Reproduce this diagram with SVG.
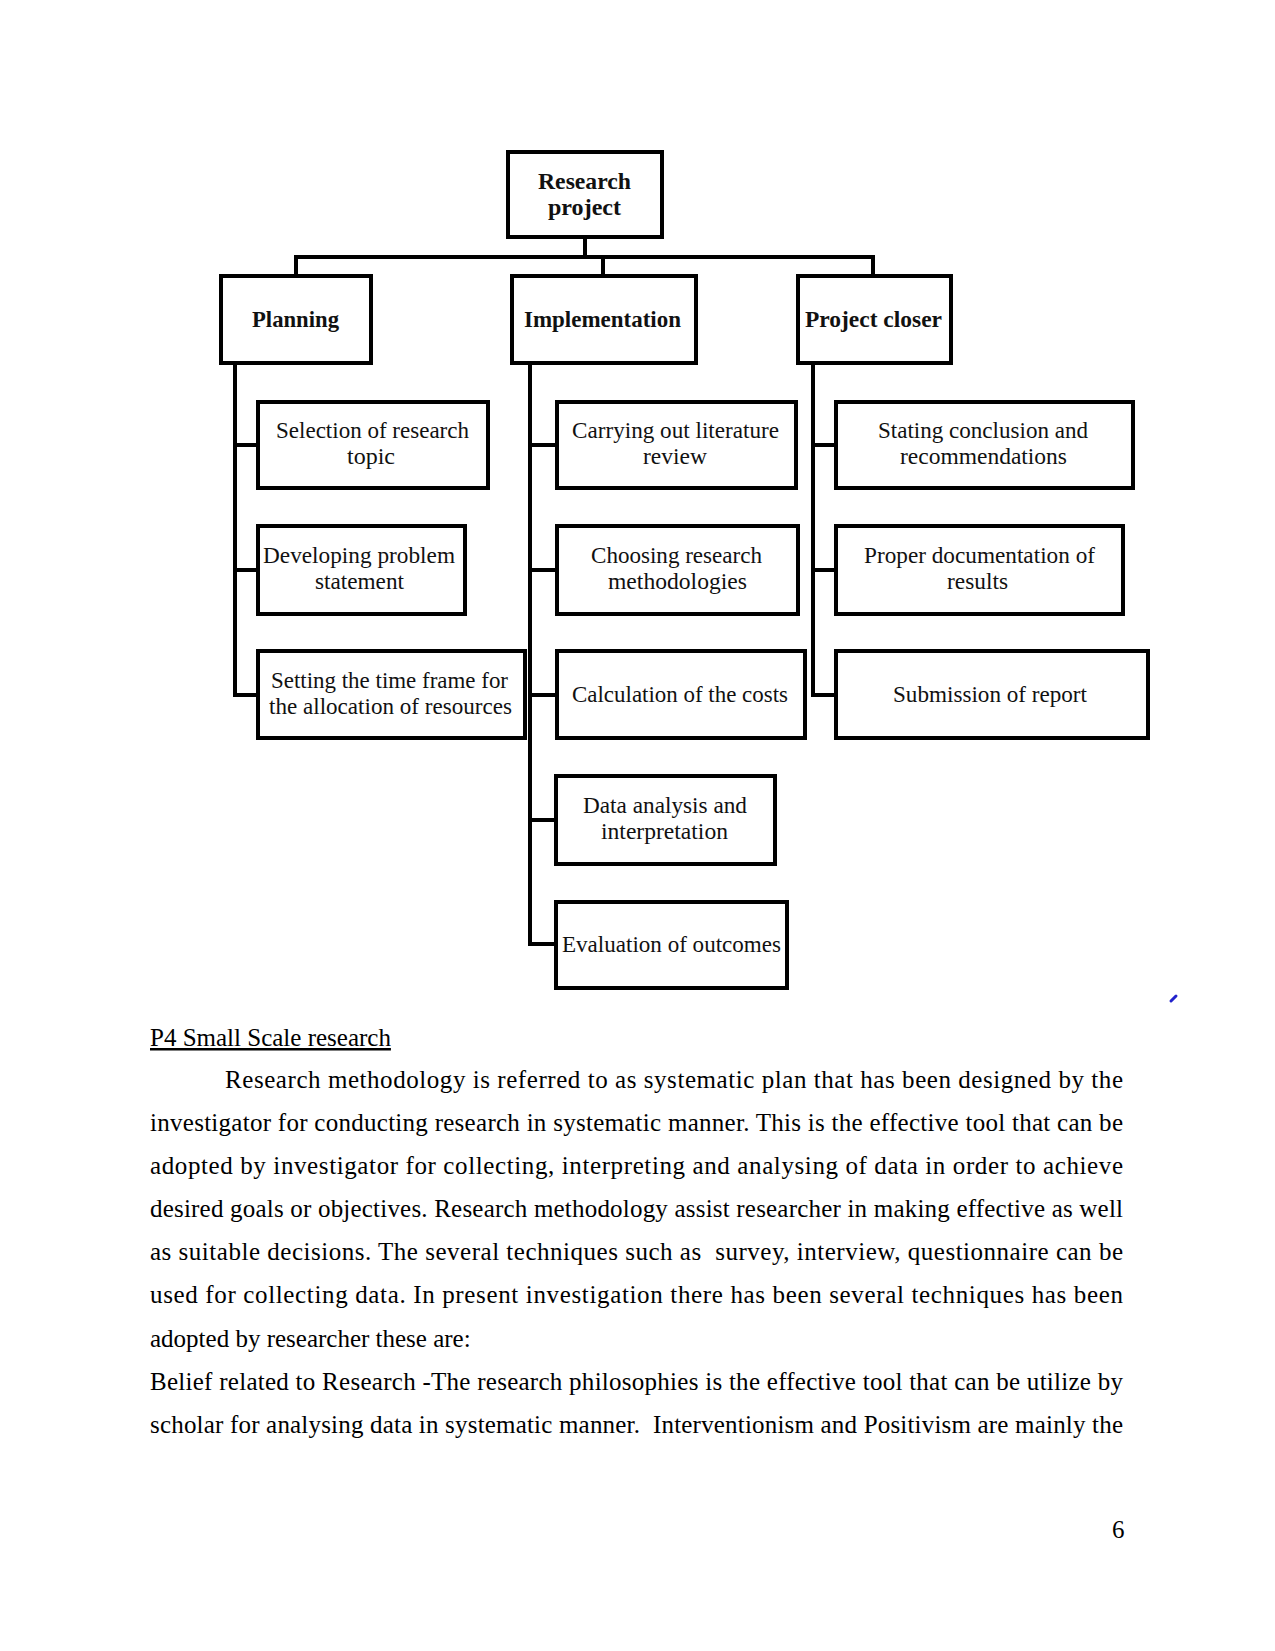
<svg xmlns="http://www.w3.org/2000/svg" width="1275" height="1651" viewBox="0 0 1275 1651">
<style>
.box{fill:#fff;stroke:#000;stroke-width:4}
.con{fill:none;stroke:#000;stroke-width:4}
.t{font-family:"Liberation Serif","Times New Roman",serif;font-size:23px;fill:#111;text-anchor:middle}
.b{font-family:"Liberation Serif","Times New Roman",serif;font-size:23px;font-weight:bold;fill:#111;text-anchor:middle}
.body{font-family:"Liberation Serif","Times New Roman",serif;font-size:25px;fill:#000}
</style>
<rect width="1275" height="1651" fill="#fff"/>
<g id="connectors">
<path class="con" d="M585 237V257"/>
<path class="con" d="M296 276V257H873V276"/>
<path class="con" d="M603 257V276"/>
<path class="con" d="M235 363V695H258M235 445H258M235 570H258"/>
<path class="con" d="M530 363V944H556M530 445H557M530 570H557M530 695H557M530 820H556"/>
<path class="con" d="M813 363V695H836M813 445H836M813 570H836"/>
</g>
<g id="research-project"><rect class="box" x="508" y="152" width="154" height="85"/>
<text class="b" x="584.5" y="189" textLength="93" lengthAdjust="spacingAndGlyphs">Research</text>
<text class="b" x="584.5" y="215" textLength="73" lengthAdjust="spacingAndGlyphs">project</text></g>
<g id="planning"><rect class="box" x="221" y="276" width="150" height="87"/>
<text class="b" x="295.5" y="327" textLength="87" lengthAdjust="spacingAndGlyphs">Planning</text></g>
<g id="implementation"><rect class="box" x="512" y="276" width="184" height="87"/>
<text class="b" x="602.5" y="327" textLength="157" lengthAdjust="spacingAndGlyphs">Implementation</text></g>
<g id="project-closer"><rect class="box" x="798" y="276" width="153" height="87"/>
<text class="b" x="873.5" y="327" textLength="137" lengthAdjust="spacingAndGlyphs">Project closer</text></g>
<g id="selection"><rect class="box" x="258" y="402" width="230" height="86"/>
<text class="t" x="372.5" y="438" textLength="193" lengthAdjust="spacingAndGlyphs">Selection of research</text>
<text class="t" x="371" y="464" textLength="48" lengthAdjust="spacingAndGlyphs">topic</text></g>
<g id="developing"><rect class="box" x="258" y="526" width="207" height="88"/>
<text class="t" x="359" y="563" textLength="192" lengthAdjust="spacingAndGlyphs">Developing problem</text>
<text class="t" x="359.5" y="589" textLength="89" lengthAdjust="spacingAndGlyphs">statement</text></g>
<g id="setting"><rect class="box" x="258" y="651" width="267" height="87"/>
<text class="t" x="389.5" y="688" textLength="237" lengthAdjust="spacingAndGlyphs">Setting the time frame for</text>
<text class="t" x="390.5" y="714" textLength="243" lengthAdjust="spacingAndGlyphs">the allocation of resources</text></g>
<g id="carrying"><rect class="box" x="557" y="402" width="239" height="86"/>
<text class="t" x="675.5" y="438" textLength="207" lengthAdjust="spacingAndGlyphs">Carrying out literature</text>
<text class="t" x="675" y="464" textLength="64" lengthAdjust="spacingAndGlyphs">review</text></g>
<g id="choosing"><rect class="box" x="557" y="526" width="241" height="88"/>
<text class="t" x="676.5" y="563" textLength="171" lengthAdjust="spacingAndGlyphs">Choosing research</text>
<text class="t" x="677.5" y="589" textLength="139" lengthAdjust="spacingAndGlyphs">methodologies</text></g>
<g id="calculation"><rect class="box" x="557" y="651" width="248" height="87"/>
<text class="t" x="680" y="702" textLength="216" lengthAdjust="spacingAndGlyphs">Calculation of the costs</text></g>
<g id="data-analysis"><rect class="box" x="556" y="776" width="219" height="88"/>
<text class="t" x="665" y="813" textLength="164" lengthAdjust="spacingAndGlyphs">Data analysis and</text>
<text class="t" x="664.5" y="839" textLength="127" lengthAdjust="spacingAndGlyphs">interpretation</text></g>
<g id="evaluation"><rect class="box" x="556" y="902" width="231" height="86"/>
<text class="t" x="671.5" y="952" textLength="219" lengthAdjust="spacingAndGlyphs">Evaluation of outcomes</text></g>
<g id="stating"><rect class="box" x="836" y="402" width="297" height="86"/>
<text class="t" x="983" y="438" textLength="210" lengthAdjust="spacingAndGlyphs">Stating conclusion and</text>
<text class="t" x="983.5" y="464" textLength="167" lengthAdjust="spacingAndGlyphs">recommendations</text></g>
<g id="documentation"><rect class="box" x="836" y="526" width="287" height="88"/>
<text class="t" x="979.5" y="563" textLength="231" lengthAdjust="spacingAndGlyphs">Proper documentation of</text>
<text class="t" x="977.5" y="589" textLength="61" lengthAdjust="spacingAndGlyphs">results</text></g>
<g id="submission"><rect class="box" x="836" y="651" width="312" height="87"/>
<text class="t" x="990" y="702" textLength="194" lengthAdjust="spacingAndGlyphs">Submission of report</text></g>
<path d="M1171 1001L1176 996" stroke="#2222cc" stroke-width="3" stroke-linecap="round"/>
<g id="body-text">
<text class="body" x="150" y="1046" text-decoration="underline">P4 Small Scale research</text>
<text class="body" x="225" y="1088" textLength="898" lengthAdjust="spacing">Research methodology is referred to as systematic plan that has been designed by the</text>
<text class="body" x="150" y="1131" textLength="973" lengthAdjust="spacing">investigator for conducting research in systematic manner. This is the effective tool that can be</text>
<text class="body" x="150" y="1174" textLength="973" lengthAdjust="spacing">adopted by investigator for collecting, interpreting and analysing of data in order to achieve</text>
<text class="body" x="150" y="1217" textLength="973" lengthAdjust="spacing">desired goals or objectives. Research methodology assist researcher in making effective as well</text>
<text class="body" x="150" y="1260" textLength="973" lengthAdjust="spacing" xml:space="preserve">as suitable decisions. The several techniques such as  survey, interview, questionnaire can be</text>
<text class="body" x="150" y="1303" textLength="973" lengthAdjust="spacing">used for collecting data. In present investigation there has been several techniques has been</text>
<text class="body" x="150" y="1347">adopted by researcher these are:</text>
<text class="body" x="150" y="1390" textLength="973" lengthAdjust="spacing">Belief related to Research -The research philosophies is the effective tool that can be utilize by</text>
<text class="body" x="150" y="1433" textLength="973" lengthAdjust="spacing" xml:space="preserve">scholar for analysing data in systematic manner.  Interventionism and Positivism are mainly the</text>
<text class="body" x="1112" y="1538">6</text>
</g>
</svg>
